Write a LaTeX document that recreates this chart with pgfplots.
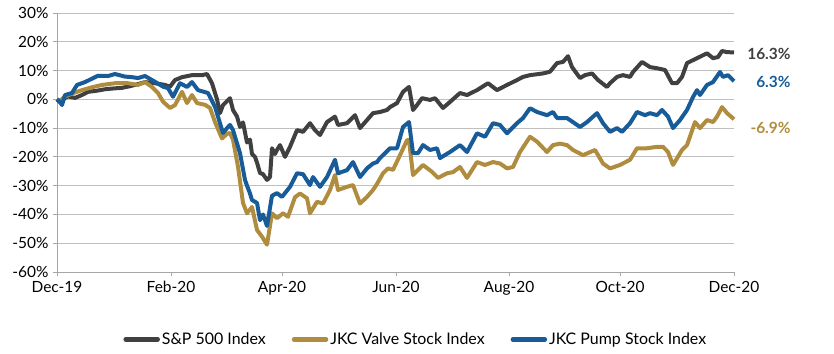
\documentclass[border=0pt]{standalone}
\usepackage{pgfplots}
\pgfplotsset{compat=1.18}
\usepackage{fontspec}
\setmainfont{Lato}
\definecolor{spx}{HTML}{404040}
\definecolor{valve}{HTML}{B08D3E}
\definecolor{pump}{HTML}{175C99}
\definecolor{gridc}{HTML}{BFBFBF}
\definecolor{axc}{HTML}{A6A6A6}

\pgfplotstableread{
x y
0 0
3 -1
8 0.5
11 1
18 0.5
25 1.5
31 2.6
40 3
48 3.5
57 3.8
65 4
72 4.5
78 5
88 6
98 5.6
108 5
113 4.4
118 6.7
125 7.7
135 8.4
145 8.4
150 8.8
155 5.6
160 0
163 -4.8
166 -2
173 0.4
176 -3.7
180 -6
183 -9.6
186 -8
190 -15
193 -14
195 -19
198 -20
200 -22
203 -25.6
206 -26
210 -28
213 -27
215 -17
218 -19
220 -17.6
223 -15.9
228 -20
233 -16.5
240 -10.7
246 -11.3
253 -8.3
258 -10.7
263 -12.4
270 -7.9
278 -6
281 -8.9
290 -8.3
298 -5.5
303 -10
310 -7.2
316 -4.8
323 -4.4
330 -3.7
333 -2.7
340 -1.3
346 2.6
352 4.3
356 -3.7
360 -2
365 0.4
373 -0.2
378 0.4
386 -3
393 -0.9
403 2.2
410 1.5
420 3.2
431 5.6
440 3.2
450 5
460 6.7
466 7.8
473 8.4
486 9
493 9.6
500 12.6
506 13
511 15
515 11.2
523 7.4
528 8.4
535 9
541 6.7
550 4.3
553 5.6
560 7.8
566 8.4
573 7.8
576 9.5
585 13
593 11.2
600 10.8
608 10.2
615 5.6
620 5.6
625 7.8
630 12.6
640 14.3
650 16
656 14.3
661 14.7
665 16.8
670 16.4
677 16.3
}\spxdata

\pgfplotstableread{
x y
0 0
3 -0.5
8 1
15 2
25 3.2
35 4.2
45 5
58 5.6
71 5.6
81 5
88 6
95 4.3
101 2.2
106 -0.8
113 -3
118 -2
125 2.6
130 -1.3
135 1.5
140 -1.3
148 -1.9
153 -3
158 -7.9
165 -13.6
170 -12
173 -11.7
176 -14
181 -23.4
186 -36
190 -39.6
195 -37.4
200 -45.4
205 -47.7
210 -50.5
215 -39.6
220 -41.3
226 -39.6
231 -40.8
238 -34
243 -32.7
250 -34.4
253 -39.6
260 -35.6
266 -36.2
273 -31.5
278 -26.3
281 -31.5
290 -30.4
296 -29.8
303 -36.2
310 -33.9
316 -31.5
320 -29.4
326 -25.7
331 -24
336 -24.5
343 -19.4
350 -14.2
352 -14.2
356 -26.3
366 -22.8
375 -25.2
381 -27.3
390 -25.7
396 -25.3
403 -23.5
410 -27.3
420 -21.8
428 -22.8
436 -21.8
443 -22.3
450 -24
456 -23.5
463 -18.3
473 -13
480 -14.7
490 -18.3
496 -15.9
503 -15.4
510 -15.9
516 -17.6
526 -19.4
538 -17.6
546 -22.3
553 -24
563 -22.8
573 -21
580 -17
590 -17
600 -16.5
606 -16.5
611 -18.3
616 -22.8
625 -17.6
630 -15.9
638 -7.9
643 -10
650 -7.2
656 -7.9
660 -6
665 -2.7
670 -4.8
677 -6.9
}\valvedata

\pgfplotstableread{
x y
0 0
3 -0.9
5 -2
8 1.5
15 2.2
20 5
28 6
41 8.2
51 8.1
58 8.8
68 7.9
75 7.7
81 7.4
88 8.1
98 6.1
106 4.4
111 3.9
116 0.9
123 5.6
130 4.3
135 6
141 3.2
151 2.2
158 -2.6
163 -8.3
166 -11.7
170 -10
173 -8.9
176 -10.7
183 -18.7
188 -28
190 -30
193 -32.7
195 -35
200 -36
203 -42
206 -40
210 -44
215 -33.5
220 -32.6
225 -33.9
233 -30.4
240 -25.7
246 -26
253 -29.8
256 -27
263 -30.4
270 -27
278 -21
281 -25.7
290 -24.6
296 -21.8
303 -27
310 -24
316 -22.3
320 -21.8
323 -20.4
326 -19.4
333 -17
340 -17
346 -9.6
352 -7.9
356 -18.7
361 -18.7
366 -15.9
373 -17.6
380 -17
383 -20.4
393 -18.3
403 -15.9
410 -18.3
420 -11.8
428 -13
436 -8.3
443 -8.9
450 -11.8
460 -8.3
466 -6.5
473 -3.1
480 -4.4
490 -5.5
496 -4.4
500 -6.5
510 -6.5
523 -9.6
530 -7.9
540 -4.8
546 -8.3
553 -11.3
560 -10
565 -11.3
573 -8.3
580 -4.4
588 -5.5
593 -4.8
600 -5.5
605 -3.7
611 -6
616 -10
623 -7.2
630 -3.7
636 0.8
640 3.2
643 1.5
650 5
656 6
663 9.5
666 7.8
671 8.4
677 6.3
}\pumpdata

\begin{document}
\begin{tikzpicture}[x=1bp,y=1bp]
\useasboundingbox (0,0) rectangle (834,353);
\begin{axis}[
  at={(57bp,81bp)}, anchor=south west,
  scale only axis, width=677bp, height=259bp,
  xmin=0, xmax=677, ymin=-60, ymax=30,
  axis x line*=bottom, axis y line*=left,
  axis line style={axc, line width=1pt},
  xtick={0,114,225,339,452,563,677},
  xticklabels={Dec-19,Feb-20,Apr-20,Jun-20,Aug-20,Oct-20,Dec-20},
  ytick={-60,-50,-40,-30,-20,-10,0,10,20,30},
  yticklabels={-60\%,-50\%,-40\%,-30\%,-20\%,-10\%,0\%,10\%,20\%,30\%},
  tick align=outside, major tick length=4bp,
  tick style={axc, line width=1pt},
  ymajorgrids, grid style={gridc, line width=1pt},
  ticklabel style={font=\fontsize{15.5}{17}\selectfont, text=black},
  yticklabel style={xshift=-1bp},
  xticklabel style={yshift=-2bp},
  /pgf/number format/assume math mode=true,
  clip=false,
  legend style={at={(0.53,-0.26)}, anchor=center, draw=none, fill=none,
    legend columns=3, font=\fontsize{16}{18}\selectfont,
    /tikz/every even column/.append style={column sep=24bp}},
  legend image code/.code={\draw[#1, line width=4.5pt, line cap=round] (0bp,0bp) -- (32bp,0bp);},
  every axis plot/.append style={line width=4pt, line join=round},
]
\addplot[spx, no marks] table[x=x,y=y] {\spxdata};
\addlegendentry{S\&P 500 Index}
\addplot[valve, no marks] table[x=x,y=y] {\valvedata};
\addlegendentry{JKC Valve Stock Index}
\addplot[pump, no marks] table[x=x,y=y] {\pumpdata};
\addlegendentry{JKC Pump Stock Index}
\node[anchor=east, text=spx, font=\bfseries\fontsize{15.5}{17}\selectfont] at (axis cs:737,15.7) {16.3\%};
\node[anchor=east, text=pump, font=\bfseries\fontsize{15.5}{17}\selectfont] at (axis cs:737,6.0) {6.3\%};
\node[anchor=east, text=valve, font=\bfseries\fontsize{15.5}{17}\selectfont] at (axis cs:737,-10) {-6.9\%};
\end{axis}
\end{tikzpicture}
\end{document}
